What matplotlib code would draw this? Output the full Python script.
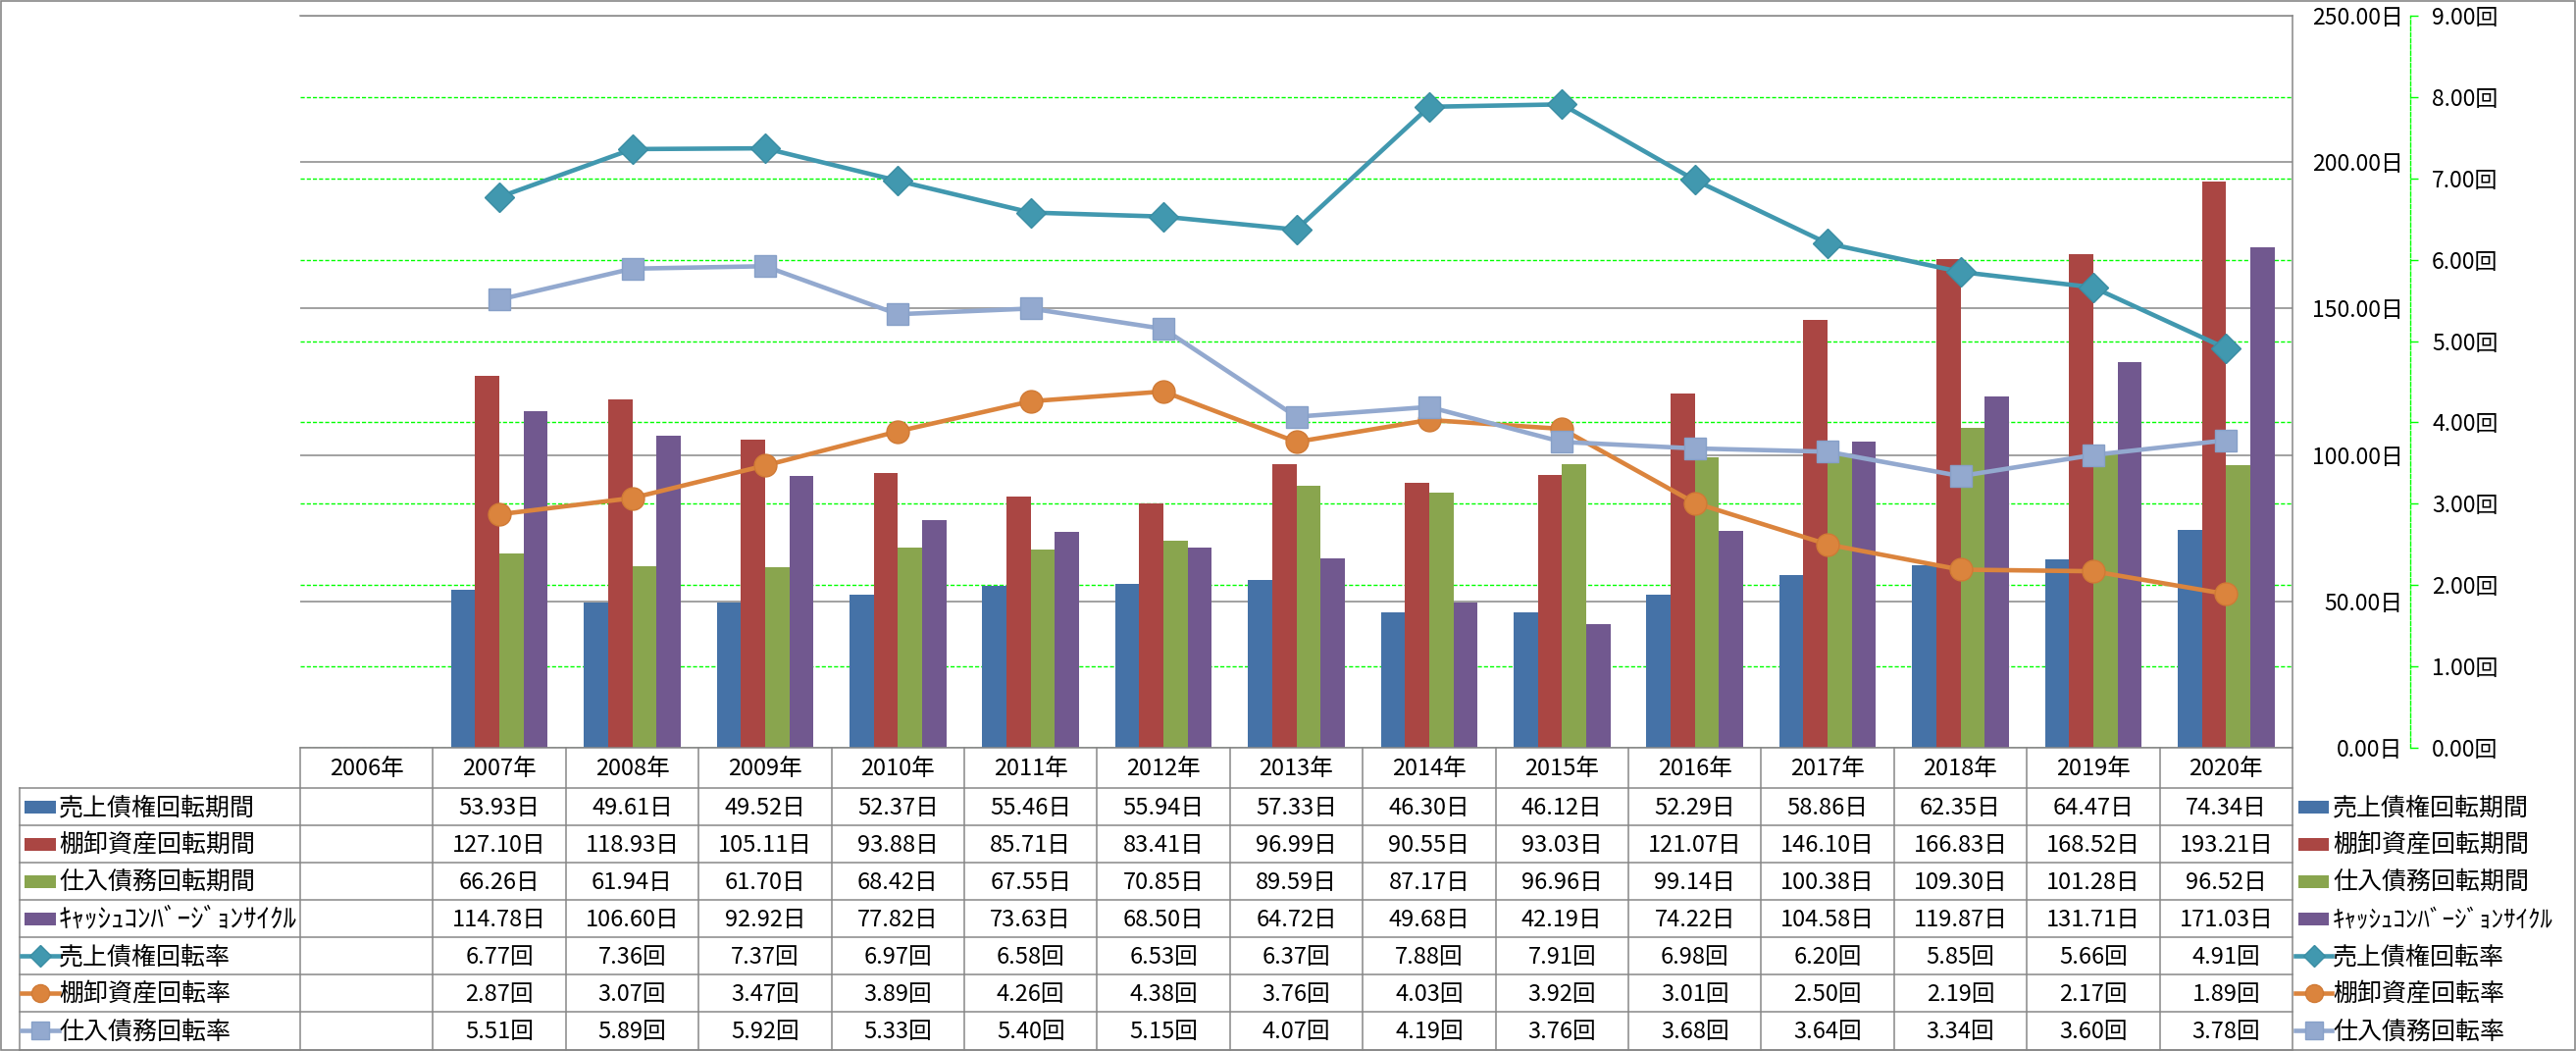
import numpy as np
import matplotlib
matplotlib.use("Agg")
import matplotlib.pyplot as plt
from matplotlib.patches import Rectangle
from matplotlib.ticker import FixedLocator, FuncFormatter

plt.rcParams['font.family'] = ['Noto Sans CJK JP', 'DejaVu Sans']

# ---------------- data ----------------
years = ["2006年", "2007年", "2008年", "2009年", "2010年", "2011年", "2012年", "2013年",
         "2014年", "2015年", "2016年", "2017年", "2018年", "2019年", "2020年"]

receivable_days = [None, 53.93, 49.61, 49.52, 52.37, 55.46, 55.94, 57.33, 46.30, 46.12,
                   52.29, 58.86, 62.35, 64.47, 74.34]
inventory_days = [None, 127.10, 118.93, 105.11, 93.88, 85.71, 83.41, 96.99, 90.55, 93.03,
                  121.07, 146.10, 166.83, 168.52, 193.21]
payable_days = [None, 66.26, 61.94, 61.70, 68.42, 67.55, 70.85, 89.59, 87.17, 96.96,
                99.14, 100.38, 109.30, 101.28, 96.52]
ccc_days = [None, 114.78, 106.60, 92.92, 77.82, 73.63, 68.50, 64.72, 49.68, 42.19,
            74.22, 104.58, 119.87, 131.71, 171.03]

receivable_turn = [None, 6.77, 7.36, 7.37, 6.97, 6.58, 6.53, 6.37, 7.88, 7.91,
                   6.98, 6.20, 5.85, 5.66, 4.91]
inventory_turn = [None, 2.87, 3.07, 3.47, 3.89, 4.26, 4.38, 3.76, 4.03, 3.92,
                  3.01, 2.50, 2.19, 2.17, 1.89]
payable_turn = [None, 5.51, 5.89, 5.92, 5.33, 5.40, 5.15, 4.07, 4.19, 3.76,
                3.68, 3.64, 3.34, 3.60, 3.78]

bar_names = ["売上債権回転期間", "棚卸資産回転期間", "仕入債務回転期間", "ｷｬｯｼｭｺﾝﾊﾞｰｼﾞｮﾝｻｲｸﾙ"]
line_names = ["売上債権回転率", "棚卸資産回転率", "仕入債務回転率"]
day_ticks = [0, 50, 100, 150, 200, 250]
turn_ticks = [0, 1, 2, 3, 4, 5, 6, 7, 8, 9]

bar_colors = ["#4572A7", "#AA4643", "#89A54E", "#71588F"]
line_colors = ["#4198AF", "#DB843D", "#93A9CF"]
line_edge = ["#3A8DA3", "#D07A35", "#87A0C8"]
line_markers = ["D", "o", "s"]
line_ms = [15.5, 16.5, 16.5]
legend_ms = [11, 13, 12.5]

def arr(v):
    return np.array([np.nan if x is None else x for x in v], dtype=float)

bar_series = [arr(receivable_days), arr(inventory_days), arr(payable_days), arr(ccc_days)]
line_series = [arr(receivable_turn), arr(inventory_turn), arr(payable_turn)]

# ---------------- layout ----------------
W, H = 2626, 1071
PL, PR, PT, PB = 306, 2337, 16, 762
HDR_B = 803
ROW_H = (1069.5 - HDR_B) / 7
LBL_L = 20
GRAY = "#878787"
GREEN = "#00FF00"
DASH = (0, (3, 1.5))

fig = plt.figure(figsize=(W / 100, H / 100), dpi=100)
rect = [PL / W, 1 - PB / H, (PR - PL) / W, (PB - PT) / H]

n = len(years)
x = np.arange(n)

# background axes: green dashed grid of the 回 axis
ax_back = fig.add_axes(rect, zorder=0)
ax_back.set_xlim(-0.5, n - 0.5)
ax_back.set_ylim(turn_ticks[0], turn_ticks[-1])
ax_back.yaxis.set_major_locator(FixedLocator(turn_ticks[:-1]))
ax_back.grid(axis='y', color=GREEN, lw=1.0, ls=DASH)
ax_back.tick_params(left=False, bottom=False, labelleft=False, labelbottom=False)
for s in ax_back.spines.values():
    s.set_visible(False)

# bar axes (日)
ax1 = fig.add_axes(rect, zorder=1, sharex=ax_back)
ax1.patch.set_visible(False)
ax1.set_ylim(day_ticks[0], day_ticks[-1])
ax1.yaxis.set_major_locator(FixedLocator(day_ticks))
ax1.yaxis.set_major_formatter(FuncFormatter(lambda v, p: f"{v:.2f}日"))
ax1.set_axisbelow(True)
ax1.grid(axis='y', color=GRAY, lw=1.1)
ax1.yaxis.tick_right()
ax1.tick_params(axis='y', length=0, pad=81, labelsize=16.5)
ax1.tick_params(axis='x', bottom=False, labelbottom=False)
for lbl in ax1.get_yticklabels():
    lbl.set_horizontalalignment('right')
for k in ['left', 'bottom']:
    ax1.spines[k].set_visible(False)
for k in ['right', 'top']:
    ax1.spines[k].set_color(GRAY)
    ax1.spines[k].set_linewidth(1.1)

bw = 0.182
for j, (vals, c) in enumerate(zip(bar_series, bar_colors)):
    ax1.bar(x + (j - 1.5) * bw, vals, width=bw, color=c, linewidth=0, zorder=2)

# line axes (回)
ax2 = fig.add_axes(rect, zorder=2, sharex=ax_back)
ax2.patch.set_visible(False)
ax2.set_ylim(turn_ticks[0], turn_ticks[-1])
ax2.yaxis.set_major_locator(FixedLocator(turn_ticks))
ax2.yaxis.set_major_formatter(FuncFormatter(lambda v, p: f"{v:.2f}回"))
ax2.yaxis.tick_right()
ax2.tick_params(axis='y', direction='out', length=6, width=1.0, color=GREEN,
                labelcolor='black', pad=10, labelsize=16.5)
ax2.tick_params(axis='x', bottom=False, labelbottom=False)
for k in ['top', 'left', 'bottom']:
    ax2.spines[k].set_visible(False)
ax2.spines['right'].set_position(('outward', 86.4))
ax2.spines['right'].set_color(GREEN)
ax2.spines['right'].set_linestyle(DASH)
ax2.spines['right'].set_linewidth(1.0)

for vals, c, ec, m, ms in zip(line_series, line_colors, line_edge, line_markers, line_ms):
    ax2.plot(x, vals, color=c, lw=3.3, marker=m, ms=ms, mfc=c, mec=ec, mew=1.0,
             solid_capstyle='round', zorder=3)

# ---------------- data table overlay (pixel coords) ----------------
ax_o = fig.add_axes([0, 0, 1, 1], zorder=5)
ax_o.set_xlim(0, W)
ax_o.set_ylim(H, 0)
ax_o.axis('off')
ax_o.patch.set_visible(False)

cw = (PR - PL) / n
lw_t = 1.1
# outer figure border
ax_o.add_patch(Rectangle((0.5, 0.5), W - 1.5, H - 1.5, fill=False, ec=GRAY, lw=1.2))

row_tops = [HDR_B + i * ROW_H for i in range(8)]
ax_o.plot([PL, PR], [PB, PB], color=GRAY, lw=lw_t)
for y in row_tops:
    ax_o.plot([LBL_L, PR], [y, y], color=GRAY, lw=lw_t)
ax_o.plot([LBL_L, LBL_L], [HDR_B, row_tops[-1]], color=GRAY, lw=lw_t)
for k in range(n + 1):
    xx = PL + k * cw
    ax_o.plot([xx, xx], [PB, row_tops[-1]], color=GRAY, lw=lw_t)

# header
for i, yr in enumerate(years):
    ax_o.text(PL + (i + 0.5) * cw, (PB + HDR_B) / 2 + 1, yr, ha='center', va='center',
              fontsize=17)

table_rows = [(bar_series[j], "日") for j in range(4)] + [(line_series[j], "回") for j in range(3)]
row_labels = bar_names + line_names

def draw_key(xl, xr, yc, idx):
    if idx < 4:
        ax_o.add_patch(Rectangle((xl, yc - 6.5), xr - xl, 13, color=bar_colors[idx], lw=0))
    else:
        k = idx - 4
        ax_o.plot([xl - 3, xr + 3], [yc, yc], color=line_colors[k], lw=3.3)
        ax_o.plot([(xl + xr) / 2], [yc], marker=line_markers[k], ms=legend_ms[k],
                  mfc=line_colors[k], mec=line_edge[k], mew=1.0, color=line_colors[k])

for r, ((vals, unit), lab) in enumerate(zip(table_rows, row_labels)):
    yc = row_tops[r] + ROW_H / 2
    fs = 19.5 if r == 3 else 18
    draw_key(25, 57, yc, r)
    ax_o.text(60, yc + 1, lab, ha='left', va='center', fontsize=fs)
    for i, v in enumerate(vals):
        if not np.isnan(v):
            ax_o.text(PL + (i + 0.5) * cw, yc + 1, f"{v:.2f}{unit}", ha='center',
                      va='center', fontsize=17)
    # right-hand legend
    draw_key(PR + 6, PR + 37, yc, r)
    ax_o.text(PR + 41, yc + 1, lab, ha='left', va='center', fontsize=18)

fig.savefig("out.png", dpi=100)
